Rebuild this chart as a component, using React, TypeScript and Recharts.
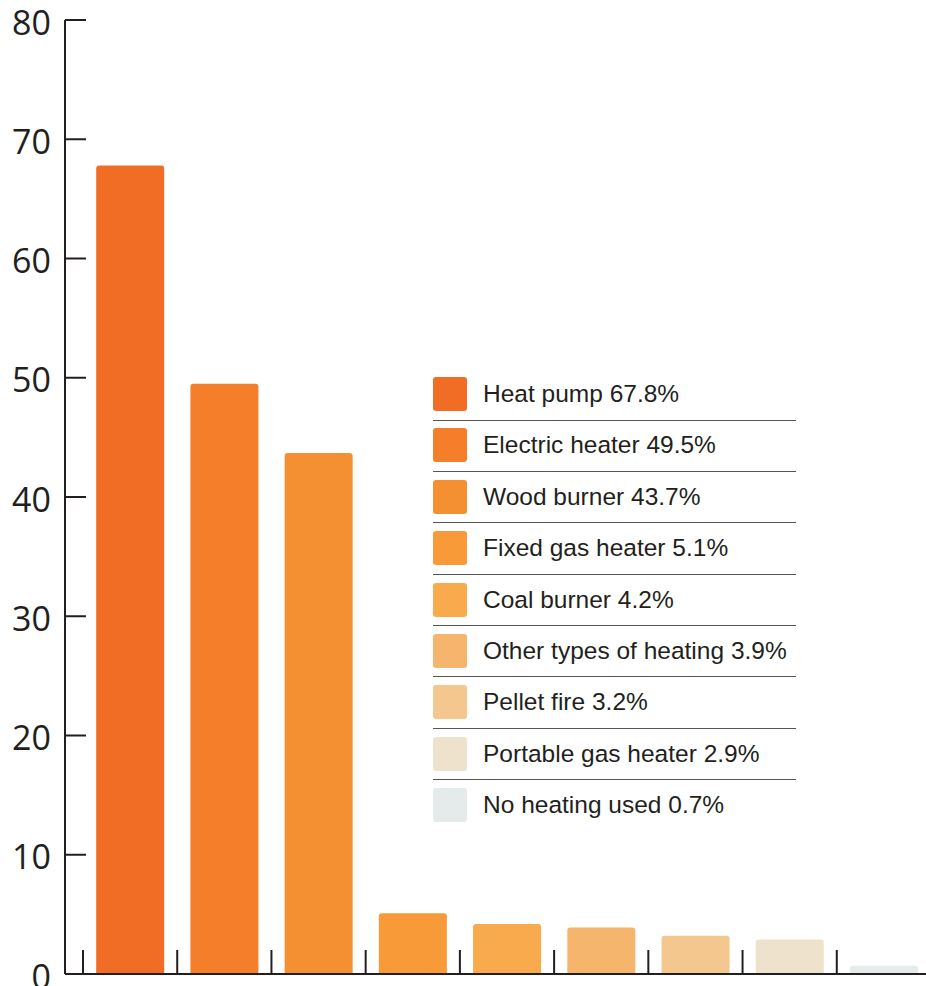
import { Bar, BarChart, Cell, Legend, XAxis, YAxis } from "recharts"

const categories = [
    "Heat pump",
    "Electric heater",
    "Wood burner",
    "Fixed gas heater",
    "Coal burner",
    "Other types of heating",
    "Pellet fire",
    "Portable gas heater",
    "No heating used",
]
const shares = [67.8, 49.5, 43.7, 5.1, 4.2, 3.9, 3.2, 2.9, 0.7]
const colors = [
    "#F16D26",
    "#F47E2A",
    "#F48F32",
    "#F79A37",
    "#F9AA4D",
    "#F6B56C",
    "#F4C78F",
    "#EEE2CC",
    "#E5EBEA",
]
const yTicks = [0, 10, 20, 30, 40, 50, 60, 70, 80]

const data = categories.map((name, i) => ({ name, share: shares[i] }))

const ink = "#231f20"
const chartW = 940
const margin = { top: 20, right: 9, bottom: 0, left: 0 }
const yAxisW = 65
const xPadding = { left: 18, right: 0 }
const band = (chartW - margin.left - margin.right - yAxisW - xPadding.left - xPadding.right) / categories.length

// x ticks: short upward marks on the left edge of each band, no labels
function EdgeTick({ x, y }: any) {
    const ex = x - band / 2
    return <line x1={ex} x2={ex} y1={y} y2={y - 24} stroke={ink} strokeWidth={2} />
}

// y ticks: label outside, mark pointing into the plot
function ValueTick({ x, y, payload }: any) {
    return (
        <g>
            {payload.value > 0 && <line x1={x + 12} x2={x + 33} y1={y} y2={y} stroke={ink} strokeWidth={2} />}
            <text x={x - 2} y={y + 14.5} textAnchor="end" fontSize={34} fontFamily="'Open Sans', sans-serif" fill={ink}>
                {payload.value}
            </text>
        </g>
    )
}

function HeatingLegend() {
    return (
        <div style={{ width: 363, fontFamily: "'Liberation Sans', Arial, sans-serif" }}>
            {categories.map((name, i) => {
                const last = i === categories.length - 1
                return (
                    <div
                        key={name}
                        style={{
                            height: 43.5,
                            marginBottom: last ? 0 : 7.9,
                            borderBottom: last ? "none" : "1.5px solid #555",
                            boxSizing: "border-box",
                        }}
                    >
                        <div style={{ display: "flex", alignItems: "center", height: 34 }}>
                            <div style={{ width: 34, height: 34, borderRadius: 3, background: colors[i], flexShrink: 0 }} />
                            <span style={{ marginLeft: 16, fontSize: 24.5, color: ink, whiteSpace: "nowrap" }}>
                                {name} {shares[i]}%
                            </span>
                        </div>
                    </div>
                )
            })}
        </div>
    )
}

export default function App() {
    return (
        <div style={{ position: "absolute", left: 0, top: 0, width: 926, height: 986, overflow: "hidden", background: "#fff" }}>
            <BarChart width={chartW} height={1000} data={data} margin={margin} barCategoryGap="14%">
                <XAxis
                    dataKey="name"
                    height={26}
                    padding={xPadding}
                    tick={<EdgeTick />}
                    tickLine={false}
                    tickSize={0}
                    tickMargin={0}
                    interval={0}
                    axisLine={{ stroke: ink, strokeWidth: 2 }}
                />
                <YAxis
                    width={yAxisW}
                    domain={[0, 80]}
                    ticks={yTicks}
                    interval={0}
                    tickLine={false}
                    tickSize={0}
                    tickMargin={12}
                    tick={<ValueTick />}
                    axisLine={{ stroke: ink, strokeWidth: 2 }}
                />
                <Legend
                    layout="horizontal"
                    align="center"
                    verticalAlign="middle"
                    content={() => <HeatingLegend />}
                    wrapperStyle={{ left: 433, top: 377, width: 363, bottom: "auto" }}
                />
                <Bar dataKey="share" radius={[3, 3, 0, 0]} isAnimationActive={false}>
                    {data.map((d, i) => (
                        <Cell key={d.name} fill={colors[i]} />
                    ))}
                </Bar>
            </BarChart>
        </div>
    )
}
